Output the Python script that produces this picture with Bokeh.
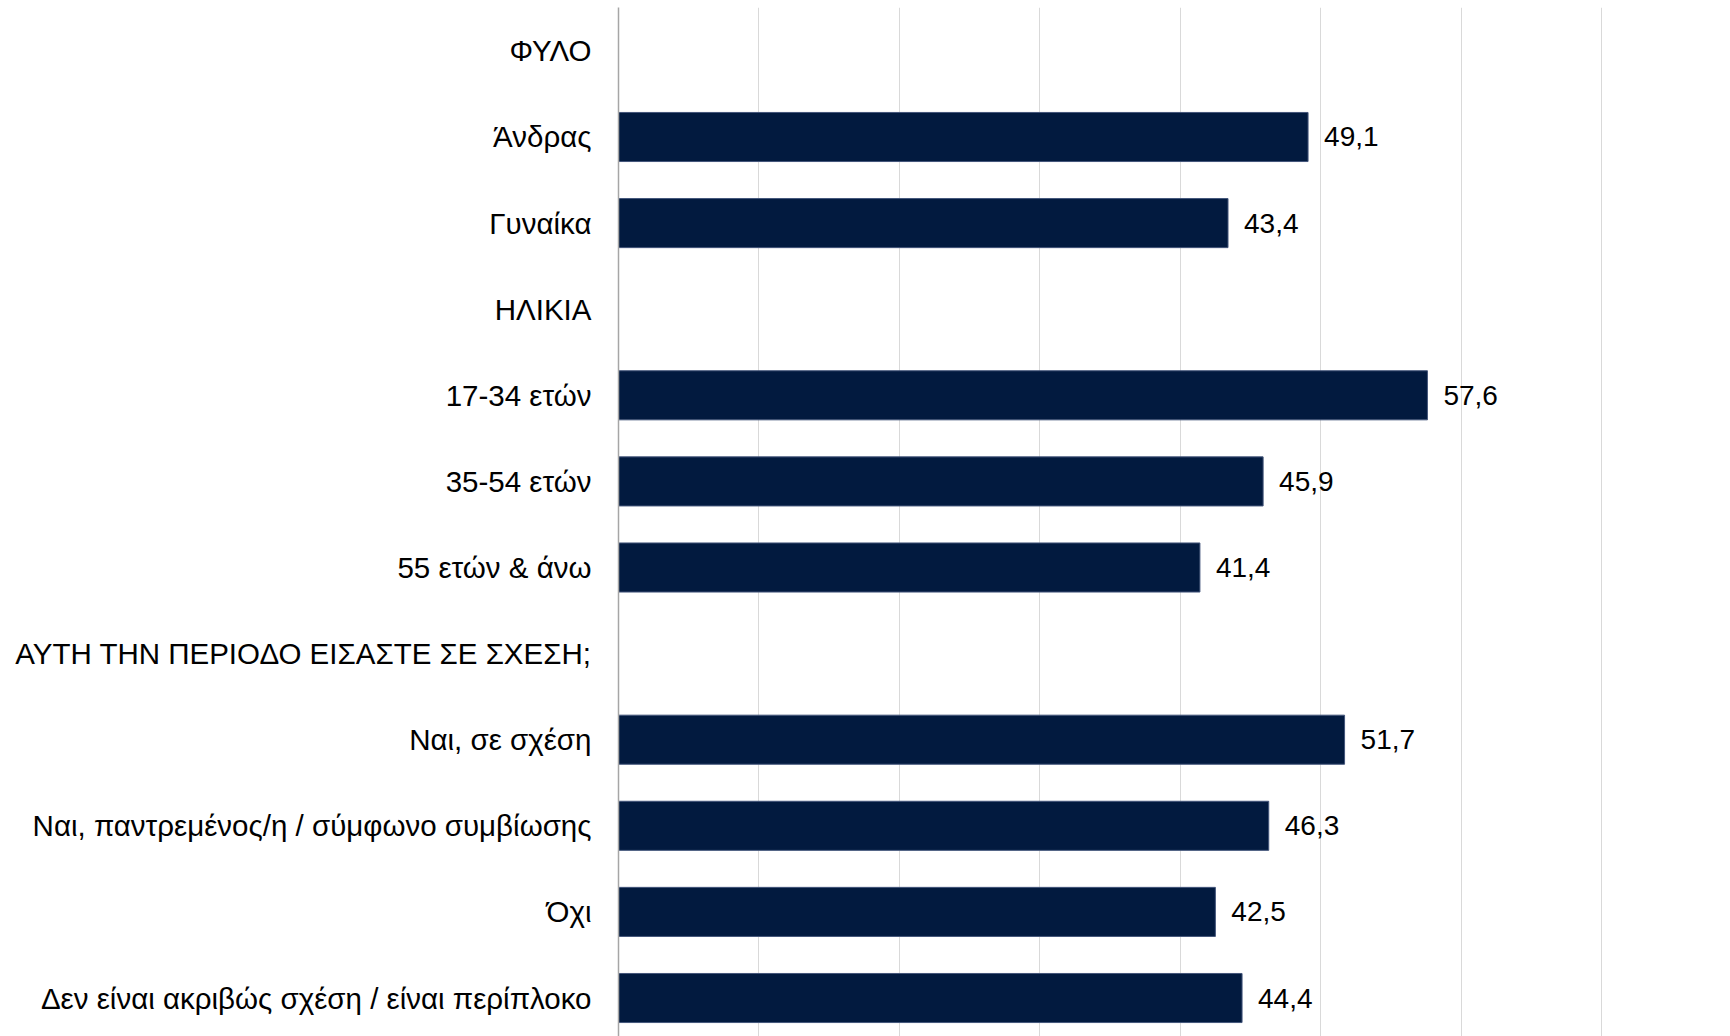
from bokeh.plotting import figure
from bokeh.models import Range1d, FixedTicker, ColumnDataSource
from bokeh.core.properties import value
from bokeh.embed import file_html
from bokeh.resources import INLINE

categories = [
    "ΦΥΛΟ",
    "Άνδρας",
    "Γυναίκα",
    "ΗΛΙΚΙΑ",
    "17-34 ετών",
    "35-54 ετών",
    "55 ετών & άνω",
    "ΑΥΤΗ ΤΗΝ ΠΕΡΙΟΔΟ ΕΙΣΑΣΤΕ ΣΕ ΣΧΕΣΗ;",
    "Ναι, σε σχέση",
    "Ναι, παντρεμένος/η / σύμφωνο συμβίωσης",
    "Όχι",
    "Δεν είναι ακριβώς σχέση / είναι περίπλοκο",
]
values = [None, 49.1, 43.4, None, 57.6, 45.9, 41.4, None, 51.7, 46.3, 42.5, 44.4]
grid_ticks = [10, 20, 30, 40, 50, 60, 70]

ys = [i for i, v in enumerate(values) if v is not None]
xs = [v for v in values if v is not None]
labels = [f"{v:.1f}".replace(".", ",") for v in xs]
src = ColumnDataSource(dict(y=ys, x=xs, label=labels))

FONT = "Liberation Sans"

p = figure(
    width=1730, height=1036,
    output_backend="svg", toolbar_location=None,
    x_range=Range1d(0, 79.18),
    y_range=Range1d(11.447, -0.504),
    min_border_left=618, min_border_right=0,
    min_border_top=7, min_border_bottom=0,
)
p.outline_line_color = None
p.background_fill_color = "white"
p.border_fill_color = "white"

p.hbar(y="y", right="x", left=0, height=0.57, source=src,
       fill_color="#021A3F", line_color="#43557A", line_width=1)

p.text(x="x", y="y", text="label", source=src, x_offset=16,
       text_baseline="middle", text_align="left",
       text_font=value(FONT), text_font_size="28px", text_color="black")

p.xaxis.visible = False
p.xgrid.ticker = FixedTicker(ticks=grid_ticks)
p.xgrid.grid_line_color = "#D9D9D9"
p.xgrid.grid_line_width = 1
p.ygrid.visible = False

ya = p.yaxis[0]
ya.ticker = FixedTicker(ticks=list(range(len(categories))))
ya.major_label_overrides = {i: c for i, c in enumerate(categories)}
ya.major_tick_out = 0
ya.major_tick_in = 0
ya.minor_tick_out = 0
ya.minor_tick_in = 0
ya.major_label_standoff = 27
ya.major_label_text_font = FONT
ya.major_label_text_font_size = "29.5px"
ya.major_label_text_color = "black"
ya.axis_line_color = "#A6A6A6"
ya.axis_line_width = 1.5

open("out.html", "w").write(file_html(p, INLINE))
